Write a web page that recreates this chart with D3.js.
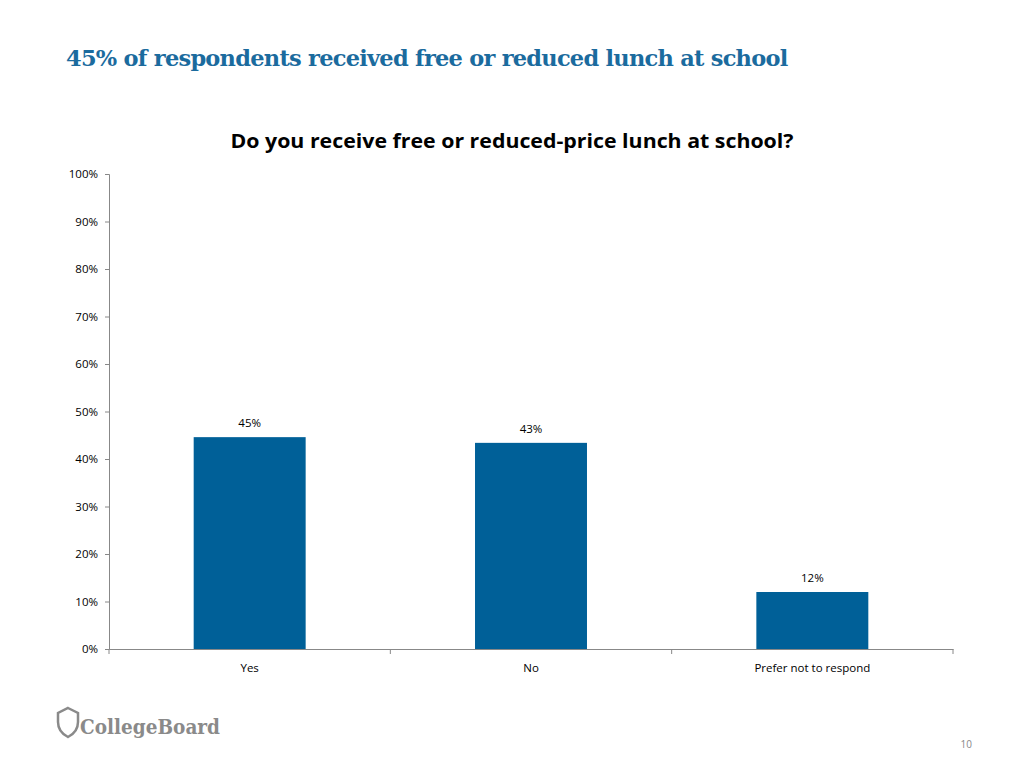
<!DOCTYPE html>
<html><head><meta charset="utf-8">
<script src="https://cdn.jsdelivr.net/npm/d3@7"></script>
<style>body{margin:0;background:#fff}</style></head>
<body><svg id="c" width="1024" height="768"></svg>
<script>
const categories = ["Yes","No","Prefer not to respond"];
const values = [44.6, 43.4, 12.0];
const labels = ["45%","43%","12%"];
const yTicks = [0,10,20,30,40,50,60,70,80,90,100];

const svg = d3.select("#c");
const x = d3.scaleBand().domain(categories).range([109,953]).paddingInner(0.602).paddingOuter(0.301);
const y = d3.scaleLinear().domain([0,100]).range([649,174]);

svg.append("text").attr("x",66).attr("y",66).attr("fill","#1b6b9e")
  .attr("font-family","DejaVu Serif").attr("font-weight","bold").attr("font-size",22.5)
  .attr("letter-spacing",-0.75)
  .text("45% of respondents received free or reduced lunch at school");
svg.append("text").attr("x",512).attr("y",148).attr("text-anchor","middle")
  .attr("font-family","Open Sans").attr("font-weight","bold").attr("font-size",20).attr("fill","#000")
  .attr("textLength",563).attr("lengthAdjust","spacingAndGlyphs")
  .text("Do you receive free or reduced-price lunch at school?");

const gy = svg.append("g").attr("transform","translate(109,0)")
  .call(d3.axisLeft(y).tickValues(yTicks).tickSize(4).tickFormat(d=>d+"%"));
const gx = svg.append("g").attr("transform","translate(0,649)")
  .call(d3.axisBottom(x).tickSize(0).tickFormat(d=>d));
const xb = d3.scaleLinear().domain([0,3]).range([109,953]);
gx.selectAll(".bt").data([0,1,2,3]).enter().append("line")
  .attr("x1",d=>xb(d)).attr("x2",d=>xb(d)).attr("y1",0).attr("y2",5).attr("stroke","#888");
[gy,gx].forEach(g=>{g.select(".domain").attr("stroke","#888");g.selectAll("line").attr("stroke","#888");
  g.selectAll("text").attr("font-family","Open Sans").attr("font-size",11.5).attr("fill","#000");});
gx.selectAll(".tick text").attr("dy",20);
gy.selectAll(".tick text").attr("dx",-4);

svg.selectAll(".bar").data(values).enter().append("rect")
  .attr("x",(d,i)=>x(categories[i])).attr("width",x.bandwidth())
  .attr("y",d=>y(d)).attr("height",d=>y(0)-y(d)).attr("fill","#006098");
svg.selectAll(".lab").data(values).enter().append("text")
  .attr("x",(d,i)=>x(categories[i])+x.bandwidth()/2).attr("y",d=>y(d)-10)
  .attr("text-anchor","middle").attr("font-family","Open Sans").attr("font-size",11.5)
  .text((d,i)=>labels[i]);

const lg = svg.append("g").attr("transform","translate(58,708)");
lg.append("path").attr("d","M10,0 L20,5 L20,14 Q20,24 10,29 Q0,24 0,14 L0,5 Z").attr("fill","none").attr("stroke","#8a8a8a").attr("stroke-width",2.5);
lg.append("text").attr("x",22).attr("y",26).attr("font-family","DejaVu Serif").attr("font-weight","bold")
  .attr("font-size",21).attr("fill","#8a8a8a").attr("textLength",140).attr("lengthAdjust","spacingAndGlyphs").text("CollegeBoard");
svg.append("text").attr("x",972).attr("y",748).attr("text-anchor","end").attr("font-family","Open Sans")
  .attr("font-size",10).attr("fill","#888").text("10");
</script></body></html>
